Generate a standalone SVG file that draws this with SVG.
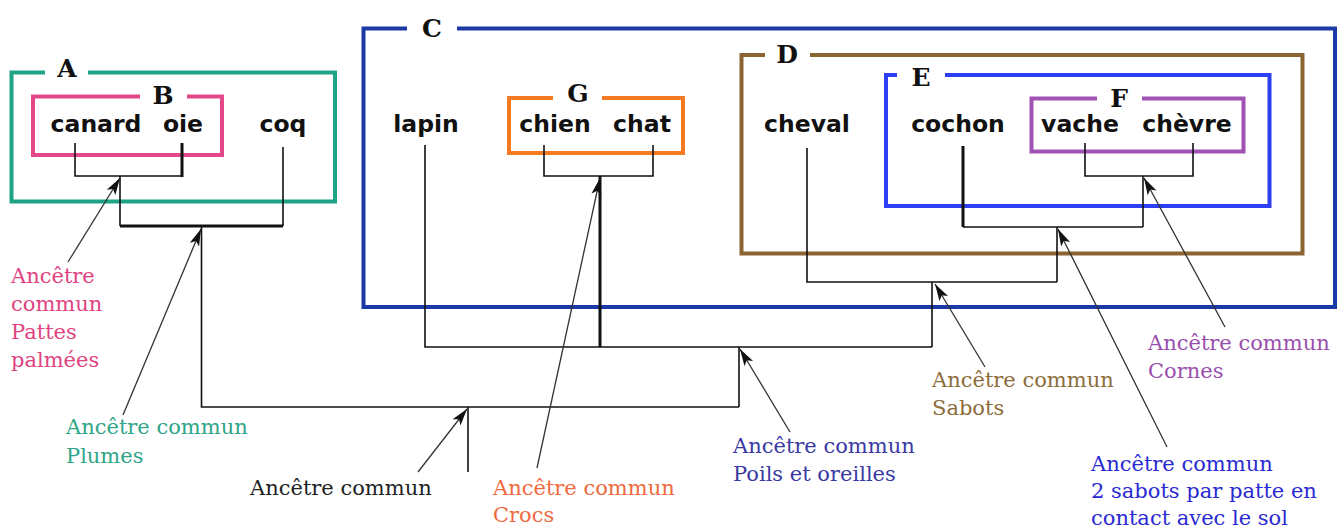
<svg xmlns="http://www.w3.org/2000/svg" width="1343" height="531" viewBox="0 0 1343 531">
<defs>
<style>
.box{fill:none;stroke-width:4;stroke-linejoin:miter}
.lab{font-family:"DejaVu Serif",serif;font-weight:bold;font-size:25px;fill:#111;text-anchor:middle}
.sp{font-family:"DejaVu Sans",sans-serif;font-weight:bold;font-size:23.5px;fill:#111;text-anchor:middle}
.tr{fill:none;stroke:#111;stroke-width:1.6}
.tk{fill:none;stroke:#111;stroke-width:3}
.ar{fill:none;stroke:#333;stroke-width:1.3;marker-end:url(#ah)}
.an{font-family:"DejaVu Serif",serif;font-size:21px}
</style>
<marker id="ah" markerUnits="userSpaceOnUse" markerWidth="18" markerHeight="12" refX="17" refY="6" orient="auto">
<path d="M0,1 L17,6 L0,11 L4,6 z" fill="#111"/>
</marker>
</defs>
<rect width="1343" height="531" fill="#fff"/>

<g id="A">
<path class="box" stroke="#1fa386" d="M45,72.5 H11.5 V201.5 H335 V72.5 H88"/>
<text class="lab" x="67" y="77">A</text>
<text class="sp" x="283" y="132">coq</text>
</g>
<g id="B">
<path class="box" stroke="#e4488a" d="M140,96.5 H33 V155 H222 V96.5 H187"/>
<text class="lab" x="163" y="104">B</text>
<text class="sp" x="96" y="132">canard</text>
<text class="sp" x="183" y="132">oie</text>
</g>
<g id="C">
<path class="box" stroke="#1c3aa6" d="M407,28.5 H363.5 V307 H1335 V28.5 H457"/>
<text class="lab" x="432" y="37">C</text>
<text class="sp" x="426" y="132">lapin</text>
</g>
<g id="G">
<path class="box" stroke="#f47b22" d="M553,98 H509 V153 H683 V98 H602"/>
<text class="lab" x="578" y="102">G</text>
<text class="sp" x="555" y="132">chien</text>
<text class="sp" x="642" y="132">chat</text>
</g>
<g id="D">
<path class="box" stroke="#8b6531" d="M765,55 H741.5 V253.5 H1302.5 V55 H810"/>
<text class="lab" x="787" y="63">D</text>
<text class="sp" x="807" y="132">cheval</text>
</g>
<g id="E">
<path class="box" stroke="#2d3ff0" d="M897,75 H886 V206 H1269.5 V75 H945"/>
<text class="lab" x="921" y="86">E</text>
<text class="sp" x="958" y="132">cochon</text>
</g>
<g id="F">
<path class="box" stroke="#a052b5" d="M1097,98.5 H1031.5 V151.5 H1243.5 V98.5 H1142"/>
<text class="lab" x="1119" y="107">F</text>
<text class="sp" x="1080" y="132">vache</text>
<text class="sp" x="1187" y="132">chèvre</text>
</g>

<g id="connectors">
<path class="tr" d="M75,143 V176 H182"/>
<path class="tk" d="M182,143 V177"/>
<path class="tr" d="M120,176 V226"/>
<path class="tk" d="M120,226 H283"/>
<path class="tr" d="M283,147 V226"/>
<path class="tr" d="M201.5,226 V407 H739"/>
<path class="tr" d="M468,407 V472"/>
<path class="tr" d="M425,145 V347 H932"/>
<path class="tr" d="M544,145 V176 H653 V145"/>
<path class="tk" d="M600,176 V347" stroke-width="3.5"/>
<path class="tr" d="M739,347 V407"/>
<path class="tr" d="M807,148 V282 H1057"/>
<path class="tr" d="M932,282 V347"/>
<path class="tk" d="M963,146 V227"/>
<path class="tr" d="M963,227 H1143"/>
<path class="tr" d="M1085,143 V176 H1193 V143"/>
<path class="tr" d="M1143,176 V227"/>
<path class="tr" d="M1057,227 V282"/>

<line class="ar" x1="68" y1="262" x2="120" y2="178"/>
<line class="ar" x1="123" y1="415" x2="201" y2="229"/>
<line class="ar" x1="418" y1="472" x2="467" y2="409"/>
<line class="ar" x1="537" y1="468" x2="600" y2="178" stroke="#555" stroke-width="1"/>
<line class="ar" x1="790" y1="432" x2="740" y2="349"/>
<line class="ar" x1="985" y1="367" x2="935" y2="284"/>
<line class="ar" x1="1167" y1="447" x2="1058" y2="229"/>
<line class="ar" x1="1225" y1="327" x2="1144" y2="178"/>
</g>

<g id="annotations" class="an">
<text x="11" y="283" fill="#e0437f">Ancêtre</text>
<text x="11" y="311" fill="#e0437f">commun</text>
<text x="11" y="339" fill="#e0437f">Pattes</text>
<text x="11" y="367" fill="#e0437f">palmées</text>
<text x="66" y="434" fill="#2ea588">Ancêtre commun</text>
<text x="66" y="463" fill="#2ea588">Plumes</text>
<text x="250" y="495" fill="#222">Ancêtre commun</text>
<text x="493" y="495" fill="#ee6a3e">Ancêtre commun</text>
<text x="493" y="522" fill="#ee6a3e">Crocs</text>
<text x="733" y="453" fill="#3a3aa3">Ancêtre commun</text>
<text x="733" y="481" fill="#3a3aa3">Poils et oreilles</text>
<text x="932" y="387" fill="#8c6d3b">Ancêtre commun</text>
<text x="932" y="415" fill="#8c6d3b">Sabots</text>
<text x="1148" y="350" fill="#9a4fae">Ancêtre commun</text>
<text x="1148" y="378" fill="#9a4fae">Cornes</text>
<text x="1091" y="471" fill="#2a2ad2">Ancêtre commun</text>
<text x="1091" y="498" fill="#2a2ad2">2 sabots par patte en</text>
<text x="1091" y="525" fill="#2a2ad2">contact avec le sol</text>
</g>
</svg>
